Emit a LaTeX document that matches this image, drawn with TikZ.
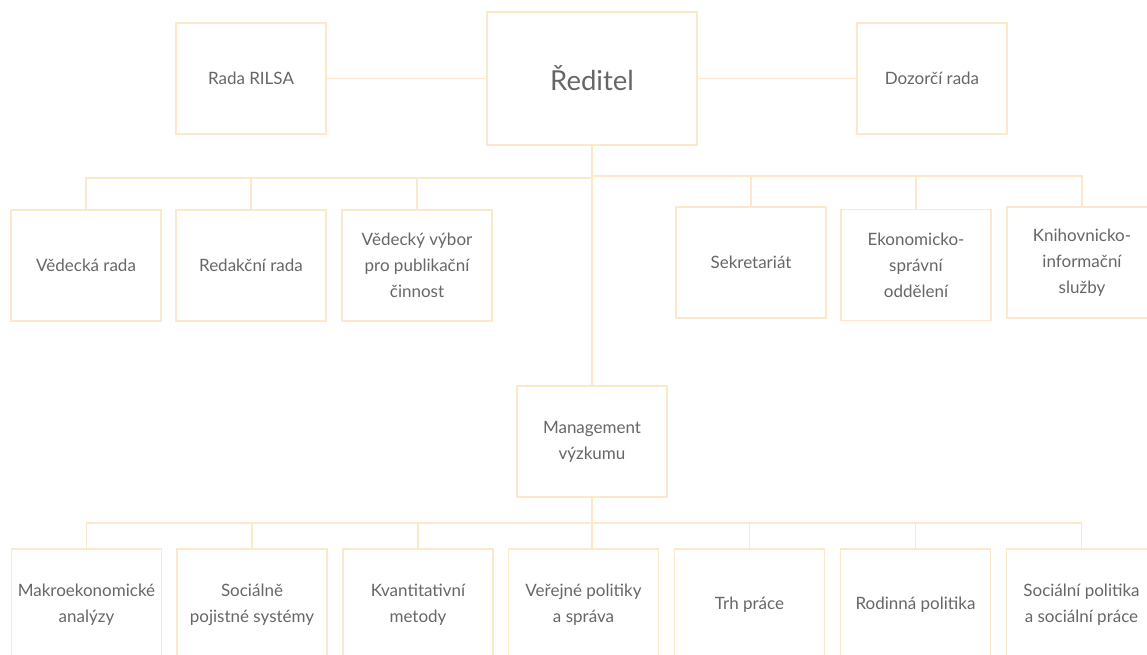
\documentclass[tikz,border=0pt]{standalone}
\usepackage{fontspec}
\setmainfont{Lato}
\definecolor{linecol}{HTML}{FBE9CA}
\definecolor{textcol}{HTML}{666666}
\tikzset{
  orgbox/.style={draw=linecol, line width=1.5pt, minimum width=150pt, minimum height=111pt,
    inner sep=0pt, text=textcol, align=center, font=\fontsize{17}{26}\selectfont},
  bigbox/.style={orgbox, minimum width=210pt, minimum height=133pt, font=\fontsize{27.5}{30}\selectfont},
  conn/.style={draw=linecol, line width=1.5pt}
}
\begin{document}
\begin{tikzpicture}[x=1pt, y=-1pt]
\useasboundingbox (0,0) rectangle (1147,654);
\clip (0,0) rectangle (1147,654);
% top level
\node[orgbox] (rila) at (251,78.5) {Rada RILSA};
\node[bigbox] (red) at (592,78.5) {Ředitel};
\node[orgbox] (doz) at (932,78.5) {Dozorčí rada};
% second level
\node[orgbox] (v1) at (86,265.5) {Vědecká rada};
\node[orgbox] (v2) at (251,265.5) {Redakční rada};
\node[orgbox] (v3) at (417,265.5) {Vědecký výbor\\pro publikační\\činnost};
\node[orgbox] (s1) at (751,262.5) {Sekretariát};
\node[orgbox] (s2) at (916,265) {Ekonomicko-\\správní\\oddělení};
\node[orgbox] (s3) at (1082,262.5) {Knihovnicko-\\informační\\služby};
% management
\node[orgbox] (mgmt) at (592,441.5) {Management\\výzkumu};
% bottom level
\node[orgbox, minimum height=112pt] (b1) at (86.5,605) {Makroekonomické\\analýzy};
\node[orgbox, minimum height=112pt] (b2) at (252,605) {Sociálně\\pojistné systémy};
\node[orgbox, minimum height=112pt] (b3) at (418,605) {Kvantitativní\\metody};
\node[orgbox, minimum height=112pt] (b4) at (583.5,605) {Veřejné politiky\\a správa};
\node[orgbox, minimum height=112pt] (b5) at (749.5,605) {Trh práce};
\node[orgbox, minimum height=112pt] (b6) at (915.5,605) {Rodinná politika};
\node[orgbox, minimum height=112pt] (b7) at (1081.5,605) {Sociální politika\\a sociální práce};
% junction points
\coordinate (jl) at (592,178);
\coordinate (jr) at (592,176);
\coordinate (jb) at (592,523);
% connectors
\draw[conn] (rila.east) -- (red.west);
\draw[conn] (red.east) -- (doz.west);
\draw[conn] (red.south) -- (mgmt.north);
\draw[conn] (v1.north) |- (jl);
\draw[conn] (v2.north) -- (v2.north |- jl);
\draw[conn] (v3.north) -- (v3.north |- jl);
\draw[conn] (s3.north) |- (jr);
\draw[conn] (s1.north) -- (s1.north |- jr);
\draw[conn] (s2.north) -- (s2.north |- jr);
\draw[conn] (mgmt.south) -- (mgmt.south |- b4.north);
\draw[conn] (b1.north) -- (b1.north |- jb) -- (b7.north |- jb) -- (b7.north);
\draw[conn] (b2.north) -- (b2.north |- jb);
\draw[conn] (b3.north) -- (b3.north |- jb);
\draw[conn] (b5.north) -- (b5.north |- jb);
\draw[conn] (b6.north) -- (b6.north |- jb);
\end{tikzpicture}
\end{document}
